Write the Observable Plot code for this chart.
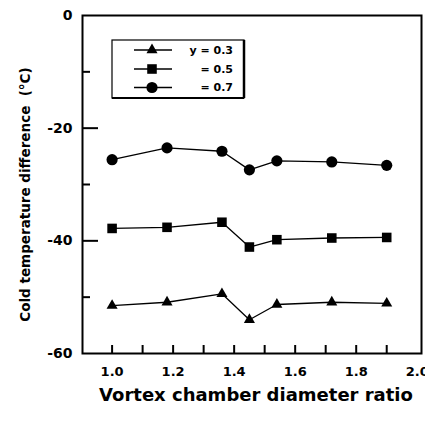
<!DOCTYPE html>
<html>
<head>
<meta charset="utf-8">
<script src="https://cdn.jsdelivr.net/npm/d3@7"></script>
<script src="https://cdn.jsdelivr.net/npm/@observablehq/plot@0.6"></script>
<style>
  html, body { margin: 0; padding: 0; background: #fff; overflow: hidden; }
  #chart svg { display: block; overflow: hidden; }
</style>
</head>
<body>
<div id="chart"></div>
<script>
// ---- data ----
const ratios = [1.0, 1.18, 1.36, 1.45, 1.54, 1.72, 1.9];
const y03 = [-51.5, -50.9, -49.4, -54.0, -51.3, -50.9, -51.1];
const y05 = [-37.8, -37.6, -36.7, -41.1, -39.8, -39.5, -39.4];
const y07 = [-25.6, -23.5, -24.1, -27.4, -25.8, -26.0, -26.6];
const seriesLabels = ["y = 0.3", "= 0.5", "= 0.7"];
const seriesSymbols = ["triangle", "square", "circle"];
const xTickLabels = [1.0, 1.2, 1.4, 1.6, 1.8, 2.0];
const xTickMarks = [1.0, 1.1, 1.2, 1.3, 1.4, 1.5, 1.6, 1.7, 1.8, 1.9];
const yTickLabels = [0, -20, -40, -60];
const yMajorTicks = [-20, -40];
const yMinorTicks = [-10, -30, -50];
const xTitle = "Vortex chamber diameter ratio";
const yTitle = "Cold temperature difference  (°C)";

const seriesValues = [y03, y05, y07];
const symbolR = [4.1, 5.4, 5.6];

const W = 425, H = 421, mL = 82, mR = 4, mT = 15, mB = 68;
const innerW = W - mL - mR, innerH = H - mT - mB;
const xDom = [0.903, 2.014], yDom = [-60, 0];
// tick lengths given in pixels, converted to data units for the rule marks
const pxX = (xDom[1] - xDom[0]) / innerW;
const pxY = (yDom[1] - yDom[0]) / innerH;

const font = "DejaVu Sans";
const marks = [];
seriesValues.forEach((vals, s) => {
  const rows = ratios.map((x, i) => ({x, y: vals[i]}));
  marks.push(Plot.line(rows, {x: "x", y: "y", stroke: "black", strokeWidth: 1.3}));
  marks.push(Plot.dot(rows, {x: "x", y: "y", symbol: seriesSymbols[s], r: symbolR[s], fill: "black", stroke: "none"}));
});

const tickColor = "black";
const chart = Plot.plot({
  width: W,
  height: H,
  marginLeft: mL,
  marginRight: mR,
  marginTop: mT,
  marginBottom: mB,
  style: {fontFamily: font, fontWeight: "bold", background: "white", overflow: "hidden"},
  x: {domain: xDom, axis: null},
  y: {domain: yDom, axis: null},
  marks: [
    Plot.text(xTickLabels, {x: d => d, frameAnchor: "bottom", dy: 22, text: d => d.toFixed(1), fontSize: 13, fontWeight: "bold", fill: "black"}),
    Plot.text(yTickLabels, {y: d => d, frameAnchor: "left", dx: -10, textAnchor: "end", text: d => String(d), fontSize: 14, fontWeight: "bold", fill: "black"}),
    Plot.text([xTitle], {frameAnchor: "bottom", dx: 4, dy: 47, text: d => d, fontSize: 18, fontWeight: "bold", fill: "black"}),
    Plot.text([yTitle], {frameAnchor: "left", textAnchor: "middle", dx: -57, dy: 10, rotate: -90, text: d => d, fontSize: 13.5, fontWeight: "bold", fill: "black"}),
    ...marks,
    Plot.frame({stroke: "black", strokeWidth: 2}),
    Plot.ruleX(xTickMarks, {x: d => d, y1: yDom[0], y2: yDom[0] + 8 * pxY, stroke: tickColor, strokeWidth: 2}),
    Plot.ruleY(yMajorTicks, {y: d => d, x1: xDom[0], x2: xDom[0] + 16 * pxX, stroke: tickColor, strokeWidth: 2}),
    Plot.ruleY(yMinorTicks, {y: d => d, x1: xDom[0], x2: xDom[0] + 8 * pxX, stroke: tickColor, strokeWidth: 2})
  ]
});

// ---- legend (inside the plot box) ----
const svg = d3.select(chart);
const lg = svg.append("g").attr("font-family", font).attr("font-weight", "bold");
const bx = 112, by = 40, bw = 132, bh = 58;
lg.append("rect").attr("x", bx).attr("y", by).attr("width", bw).attr("height", bh)
  .attr("fill", "white").attr("stroke", "black").attr("stroke-width", 1.2);
lg.append("line").attr("x1", bx + bw).attr("x2", bx + bw).attr("y1", by).attr("y2", by + bh)
  .attr("stroke", "black").attr("stroke-width", 2.5);
lg.append("line").attr("x1", bx).attr("x2", bx + bw).attr("y1", by + bh).attr("y2", by + bh)
  .attr("stroke", "black").attr("stroke-width", 2);
const rowY = [50, 69, 87.5];
const d3Sym = {triangle: d3.symbolTriangle, square: d3.symbolSquare, circle: d3.symbolCircle};
seriesLabels.forEach((lab, i) => {
  const y = rowY[i];
  lg.append("line").attr("x1", 134).attr("x2", 172).attr("y1", y).attr("y2", y)
    .attr("stroke", "black").attr("stroke-width", 1.5);
  lg.append("path").attr("transform", `translate(152,${y})`)
    .attr("d", d3.symbol(d3Sym[seriesSymbols[i]], Math.PI * symbolR[i] * symbolR[i])())
    .attr("fill", "black");
  lg.append("text").attr("x", 233).attr("y", y).attr("dy", "0.36em")
    .attr("text-anchor", "end").attr("font-size", 11).attr("fill", "black").text(lab);
});

document.getElementById("chart").appendChild(chart);
</script>
</body>
</html>
